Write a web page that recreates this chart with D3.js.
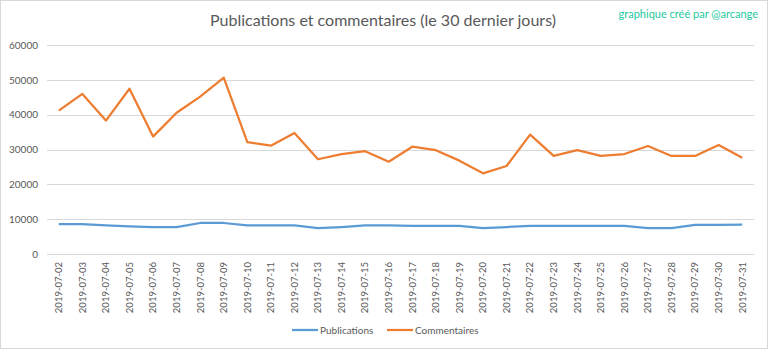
<!DOCTYPE html>
<html><head><meta charset="utf-8">
<script src="https://cdn.jsdelivr.net/npm/d3@7"></script>
<style>
html,body{margin:0;padding:0;background:#fff;}
svg{display:block;font-family:Lato,"Open Sans",sans-serif;}
</style></head>
<body>
<script>
const dates = ["2019-07-02","2019-07-03","2019-07-04","2019-07-05","2019-07-06","2019-07-07","2019-07-08","2019-07-09","2019-07-10","2019-07-11","2019-07-12","2019-07-13","2019-07-14","2019-07-15","2019-07-16","2019-07-17","2019-07-18","2019-07-19","2019-07-20","2019-07-21","2019-07-22","2019-07-23","2019-07-24","2019-07-25","2019-07-26","2019-07-27","2019-07-28","2019-07-29","2019-07-30","2019-07-31"];
const publications = [8600,8600,8250,7950,7700,7700,8900,8900,8250,8250,8250,7400,7750,8250,8250,8050,8050,8050,7450,7750,8050,8050,8050,8050,8050,7450,7450,8350,8350,8400];
const commentaires = [41150,45950,38300,47450,33700,40550,45200,50650,32100,31100,34750,27200,28700,29500,26500,30800,29800,26800,23150,25250,34250,28150,29800,28150,28700,31000,28150,28150,31300,27650];
const yTicks = [0,10000,20000,30000,40000,50000,60000];
const seriesNames = ["Publications","Commentaires"];
const colors = ["#5B9BD5","#ED7D31"];

const W = 768, H = 349;
const svg = d3.select("body").append("svg").attr("width", W).attr("height", H);
svg.append("rect").attr("x",0.5).attr("y",0.5).attr("width",W-1).attr("height",H-1)
  .attr("fill","#fff").attr("stroke","#d9d9d9");

const mLeft = 47, mRight = 754, mTop = 45, mBottom = 254;
const x = d3.scaleBand().domain(dates).range([mLeft, mRight]);
const y = d3.scaleLinear().domain([0, 60000]).range([mBottom, mTop]);

// gridlines
svg.append("g").selectAll("line").data(yTicks).join("line")
  .attr("x1", mLeft).attr("x2", mRight)
  .attr("y1", d => Math.round(y(d)) + 0.5).attr("y2", d => Math.round(y(d)) + 0.5)
  .attr("stroke", "#d9d9d9").attr("stroke-width", 1);

// y axis labels
const yAxis = d3.axisLeft(y).tickValues(yTicks).tickSize(0).tickPadding(0).tickFormat(d3.format("d"));
const gy = svg.append("g").attr("transform", `translate(38,0)`).call(yAxis);
gy.select(".domain").remove();
gy.selectAll("text").attr("fill", "#595959").attr("font-size", 10).attr("font-family","Lato");

// x axis labels
const xAxis = d3.axisBottom(x).tickSize(0).tickPadding(0);
const gx = svg.append("g").attr("transform", `translate(0,${mBottom})`).call(xAxis);
gx.select(".domain").remove();
gx.selectAll("text").attr("fill", "#595959").attr("font-size", 9.5).attr("font-family","Lato")
  .attr("transform", "rotate(-90)").attr("text-anchor", "end")
  .attr("x", -8).attr("y", 0).attr("dy", "0.35em");

// lines
const line = d3.line().x((d, i) => x(dates[i]) + x.bandwidth() / 2).y(d => y(d));
[publications, commentaires].forEach((s, k) => {
  svg.append("path").datum(s).attr("d", line).attr("fill", "none")
    .attr("stroke", colors[k]).attr("stroke-width", 2.25).attr("stroke-linejoin", "round");
});

// title
svg.append("text").attr("x", 383).attr("y", 26).attr("text-anchor", "middle")
  .attr("font-size", 16).attr("fill", "#595959").attr("font-family","Lato")
  .text("Publications et commentaires (le 30 dernier jours)");
svg.append("text").attr("x", 758).attr("y", 18).attr("text-anchor", "end")
  .attr("font-size", 11).attr("fill", "#1ec8a0").attr("font-family","Lato")
  .text("graphique créé par @arcange");

// legend
const legX = [292, 387];
seriesNames.forEach((n, k) => {
  svg.append("line").attr("x1", legX[k]).attr("x2", legX[k] + 26).attr("y1", 330).attr("y2", 330)
    .attr("stroke", colors[k]).attr("stroke-width", 2.25);
  svg.append("text").attr("x", legX[k] + 28).attr("y", 330).attr("dy", "0.35em")
    .attr("font-size", 10).attr("fill", "#595959").attr("font-family","Lato").text(n);
});
</script>
</body></html>
